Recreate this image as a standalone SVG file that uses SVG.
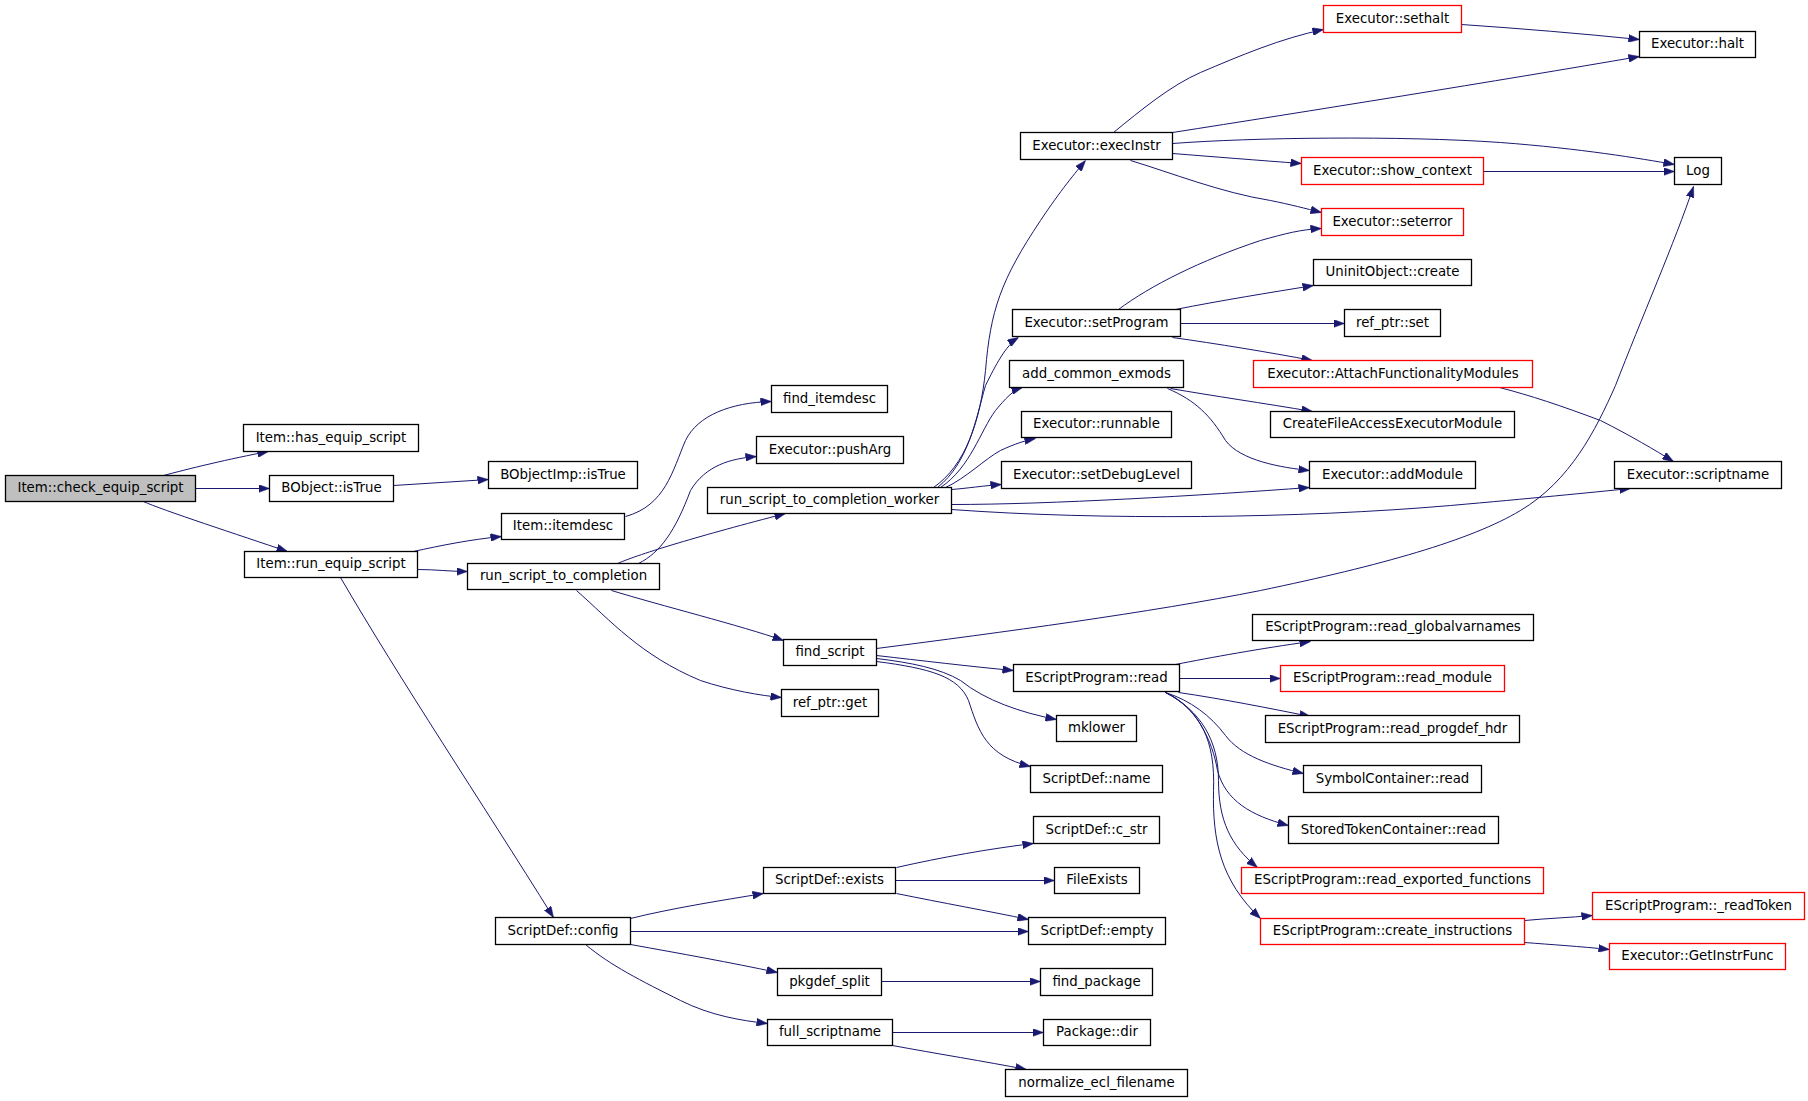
<svg xmlns="http://www.w3.org/2000/svg" width="1808" height="1101" viewBox="0 0 1808 1101">
<defs>
<marker id="ah" markerWidth="11" markerHeight="8" refX="11" refY="4" orient="auto" markerUnits="userSpaceOnUse">
<path d="M0,0 L11,4 L0,8 z" fill="#191970" stroke="#191970" stroke-width="0.5"/>
</marker>
<style>
.n rect{fill:#ffffff;stroke:#000000;stroke-width:1.3}
.n.red rect{stroke:#ff0000}
.n.root rect{fill:#bfbfbf}
.n text{font-family:"DejaVu Sans","Liberation Sans",sans-serif;font-size:13.33px;fill:#000000;text-anchor:middle;transform:translateY(-1px)}
#edges path{fill:none;stroke:#191970;stroke-width:1;marker-end:url(#ah)}
</style>
</defs>
<rect x="0" y="0" width="1808" height="1101" fill="#ffffff"/>
<g transform="translate(0.5,0.5)">
<g id="edges">
<path d="M163,475 C185,469 230,458 268,451"/>
<path d="M195,488 L269,488"/>
<path d="M143,501 C160,509 240,535 287,551"/>
<path d="M393,485 L488,479"/>
<path d="M413,551 C440,545 470,539 501,536"/>
<path d="M417,569 C435,569 450,571 467,571"/>
<path d="M340,577 C400,680 480,800 553,917"/>
<path d="M625,516 C665,505 672,470 685,440 C697,415 730,402 771,401"/>
<path d="M638,563 C660,552 675,530 690,490 C705,465 730,458 756,456"/>
<path d="M617,563 C640,553 700,535 785,513"/>
<path d="M611,590 C660,605 740,625 783,640"/>
<path d="M576,590 C610,620 640,655 700,680 C730,690 760,695 781,697"/>
<path d="M933,487 C965,465 980,420 985,370 C990,310 1000,280 1040,220 C1060,190 1075,172 1085,160"/>
<path d="M937,487 C968,462 975,420 985,385 C995,365 1005,345 1018,337"/>
<path d="M940,487 C970,467 980,430 995,410 C1005,398 1012,390 1022,387"/>
<path d="M945,487 C965,478 985,458 1000,450 C1015,443 1025,440 1035,438"/>
<path d="M951,489 C965,488 985,485 1001,484"/>
<path d="M951,504 C1050,504 1200,495 1309,487"/>
<path d="M951,509 C1100,520 1300,518 1450,505 C1530,498 1590,492 1630,488"/>
<path d="M1113,132 C1140,110 1170,85 1200,72 C1240,55 1280,38 1323,29"/>
<path d="M1172,132 C1300,112 1500,80 1639,56"/>
<path d="M1172,143 C1250,137 1400,135 1500,142 C1580,148 1640,158 1674,164"/>
<path d="M1172,153 C1210,156 1260,160 1301,163"/>
<path d="M1130,160 C1170,172 1220,192 1270,200 C1290,204 1305,208 1321,212"/>
<path d="M1461,24 C1520,28 1580,33 1639,39"/>
<path d="M1483,171 L1674,171"/>
<path d="M1118,309 C1150,285 1200,260 1260,240 C1285,233 1300,229 1321,228"/>
<path d="M1175,309 C1220,300 1270,292 1313,285"/>
<path d="M1180,323 L1344,323"/>
<path d="M1172,337 C1215,343 1270,352 1312,360"/>
<path d="M1499,387 C1530,395 1560,405 1600,420 C1630,435 1655,450 1673,461"/>
<path d="M1170,388 C1210,395 1265,403 1312,411"/>
<path d="M1167,388 C1195,400 1210,415 1225,440 C1240,460 1280,467 1309,470"/>
<path d="M876,648 C1000,632 1150,612 1260,590 C1380,565 1470,540 1520,510 C1570,480 1595,430 1615,385 C1640,320 1675,240 1693,186"/>
<path d="M876,655 C920,660 970,666 1013,670"/>
<path d="M876,658 C910,662 940,668 960,680 C985,700 1020,712 1056,719"/>
<path d="M876,661 C930,668 958,676 968,700 C978,730 985,755 1030,766"/>
<path d="M1175,664 C1210,657 1260,648 1310,641"/>
<path d="M1179,678 L1280,678"/>
<path d="M1178,692 C1220,698 1270,708 1310,716"/>
<path d="M1165,692 C1190,700 1210,715 1225,735 C1240,755 1270,765 1303,773"/>
<path d="M1165,692 C1195,705 1212,740 1217,770 C1225,800 1250,815 1288,825"/>
<path d="M1165,692 C1200,710 1218,740 1218,780 C1218,820 1230,845 1257,867"/>
<path d="M1165,692 C1200,710 1215,740 1213,790 C1212,840 1220,880 1260,918"/>
<path d="M1524,920 C1545,918 1570,917 1592,915"/>
<path d="M1524,942 C1550,944 1580,946 1609,949"/>
<path d="M630,918 C670,908 720,900 763,893"/>
<path d="M630,931 L1028,931"/>
<path d="M630,944 C680,953 730,962 777,972"/>
<path d="M585,944 C610,965 640,980 680,1000 C710,1015 740,1020 767,1023"/>
<path d="M896,867 C940,857 990,848 1033,843"/>
<path d="M895,880 L1054,880"/>
<path d="M896,893 C940,902 990,911 1028,919"/>
<path d="M881,981 L1040,981"/>
<path d="M892,1032 L1043,1032"/>
<path d="M892,1045 C935,1053 985,1061 1026,1069"/>
</g>
<g id="n1" class="n root"><rect x="5" y="475" width="190" height="26"/><text x="100" y="492.5">Item::check_equip_script</text></g>
<g id="n2" class="n"><rect x="243" y="424" width="175" height="27"/><text x="330.5" y="442">Item::has_equip_script</text></g>
<g id="n3" class="n"><rect x="269" y="475" width="124" height="26"/><text x="331" y="492.5">BObject::isTrue</text></g>
<g id="n4" class="n"><rect x="244" y="551" width="173" height="26"/><text x="330.5" y="568.5">Item::run_equip_script</text></g>
<g id="n5" class="n"><rect x="488" y="461" width="149" height="27"/><text x="562.5" y="479">BObjectImp::isTrue</text></g>
<g id="n6" class="n"><rect x="501" y="513" width="123" height="26"/><text x="562.5" y="530.5">Item::itemdesc</text></g>
<g id="n7" class="n"><rect x="467" y="563" width="192" height="26"/><text x="563" y="580.5">run_script_to_completion</text></g>
<g id="n8" class="n"><rect x="771" y="385" width="116" height="27"/><text x="829" y="403">find_itemdesc</text></g>
<g id="n9" class="n"><rect x="756" y="436" width="147" height="27"/><text x="829.5" y="454">Executor::pushArg</text></g>
<g id="n10" class="n"><rect x="707" y="487" width="244" height="26"/><text x="829" y="504.5">run_script_to_completion_worker</text></g>
<g id="n11" class="n red"><rect x="1323" y="5" width="138" height="27"/><text x="1392" y="23">Executor::sethalt</text></g>
<g id="n12" class="n"><rect x="1020" y="132" width="152" height="27"/><text x="1096" y="150">Executor::execInstr</text></g>
<g id="n13" class="n red"><rect x="1301" y="157" width="182" height="27"/><text x="1392" y="175">Executor::show_context</text></g>
<g id="n14" class="n red"><rect x="1321" y="208" width="142" height="27"/><text x="1392" y="226">Executor::seterror</text></g>
<g id="n15" class="n"><rect x="1639" y="31" width="116" height="26"/><text x="1697" y="48.5">Executor::halt</text></g>
<g id="n16" class="n"><rect x="1674" y="157" width="47" height="27"/><text x="1697.5" y="175">Log</text></g>
<g id="n17" class="n"><rect x="1313" y="259" width="158" height="26"/><text x="1392" y="276.5">UninitObject::create</text></g>
<g id="n18" class="n"><rect x="1012" y="309" width="168" height="27"/><text x="1096" y="327">Executor::setProgram</text></g>
<g id="n19" class="n"><rect x="1344" y="309" width="96" height="27"/><text x="1392" y="327">ref_ptr::set</text></g>
<g id="n20" class="n red"><rect x="1253" y="360" width="279" height="27"/><text x="1392.5" y="378">Executor::AttachFunctionalityModules</text></g>
<g id="n21" class="n"><rect x="1009" y="360" width="174" height="27"/><text x="1096" y="378">add_common_exmods</text></g>
<g id="n22" class="n"><rect x="1021" y="411" width="150" height="26"/><text x="1096" y="428.5">Executor::runnable</text></g>
<g id="n23" class="n"><rect x="1270" y="411" width="244" height="26"/><text x="1392" y="428.5">CreateFileAccessExecutorModule</text></g>
<g id="n24" class="n"><rect x="1001" y="461" width="190" height="27"/><text x="1096" y="479">Executor::setDebugLevel</text></g>
<g id="n25" class="n"><rect x="1309" y="461" width="166" height="27"/><text x="1392" y="479">Executor::addModule</text></g>
<g id="n26" class="n"><rect x="1614" y="461" width="167" height="27"/><text x="1697.5" y="479">Executor::scriptname</text></g>
<g id="n27" class="n"><rect x="783" y="639" width="93" height="26"/><text x="829.5" y="656.5">find_script</text></g>
<g id="n28" class="n"><rect x="781" y="689" width="97" height="27"/><text x="829.5" y="707">ref_ptr::get</text></g>
<g id="n29" class="n"><rect x="1013" y="664" width="166" height="27"/><text x="1096" y="682">EScriptProgram::read</text></g>
<g id="n30" class="n"><rect x="1056" y="715" width="80" height="26"/><text x="1096" y="732.5">mklower</text></g>
<g id="n31" class="n"><rect x="1030" y="765" width="132" height="27"/><text x="1096" y="783">ScriptDef::name</text></g>
<g id="n32" class="n"><rect x="1252" y="614" width="281" height="26"/><text x="1392.5" y="631.5">EScriptProgram::read_globalvarnames</text></g>
<g id="n33" class="n red"><rect x="1280" y="665" width="224" height="26"/><text x="1392" y="682.5">EScriptProgram::read_module</text></g>
<g id="n34" class="n"><rect x="1265" y="715" width="254" height="27"/><text x="1392" y="733">EScriptProgram::read_progdef_hdr</text></g>
<g id="n35" class="n"><rect x="1303" y="765" width="178" height="27"/><text x="1392" y="783">SymbolContainer::read</text></g>
<g id="n36" class="n"><rect x="1288" y="816" width="210" height="27"/><text x="1393" y="834">StoredTokenContainer::read</text></g>
<g id="n37" class="n red"><rect x="1241" y="867" width="302" height="26"/><text x="1392" y="884.5">EScriptProgram::read_exported_functions</text></g>
<g id="n38" class="n red"><rect x="1260" y="918" width="264" height="26"/><text x="1392" y="935.5">EScriptProgram::create_instructions</text></g>
<g id="n39" class="n red"><rect x="1592" y="892" width="212" height="27"/><text x="1698" y="910">EScriptProgram::_readToken</text></g>
<g id="n40" class="n red"><rect x="1609" y="943" width="176" height="26"/><text x="1697" y="960.5">Executor::GetInstrFunc</text></g>
<g id="n41" class="n"><rect x="495" y="917" width="135" height="27"/><text x="562.5" y="935">ScriptDef::config</text></g>
<g id="n42" class="n"><rect x="763" y="867" width="132" height="26"/><text x="829" y="884.5">ScriptDef::exists</text></g>
<g id="n43" class="n"><rect x="1033" y="816" width="126" height="27"/><text x="1096" y="834">ScriptDef::c_str</text></g>
<g id="n44" class="n"><rect x="1054" y="867" width="85" height="26"/><text x="1096.5" y="884.5">FileExists</text></g>
<g id="n45" class="n"><rect x="1028" y="917" width="137" height="27"/><text x="1096.5" y="935">ScriptDef::empty</text></g>
<g id="n46" class="n"><rect x="777" y="968" width="104" height="27"/><text x="829" y="986">pkgdef_split</text></g>
<g id="n47" class="n"><rect x="1040" y="968" width="112" height="27"/><text x="1096" y="986">find_package</text></g>
<g id="n48" class="n"><rect x="767" y="1019" width="125" height="26"/><text x="829.5" y="1036.5">full_scriptname</text></g>
<g id="n49" class="n"><rect x="1043" y="1019" width="107" height="26"/><text x="1096.5" y="1036.5">Package::dir</text></g>
<g id="n50" class="n"><rect x="1005" y="1069" width="182" height="27"/><text x="1096" y="1087">normalize_ecl_filename</text></g>
</g>
</svg>
